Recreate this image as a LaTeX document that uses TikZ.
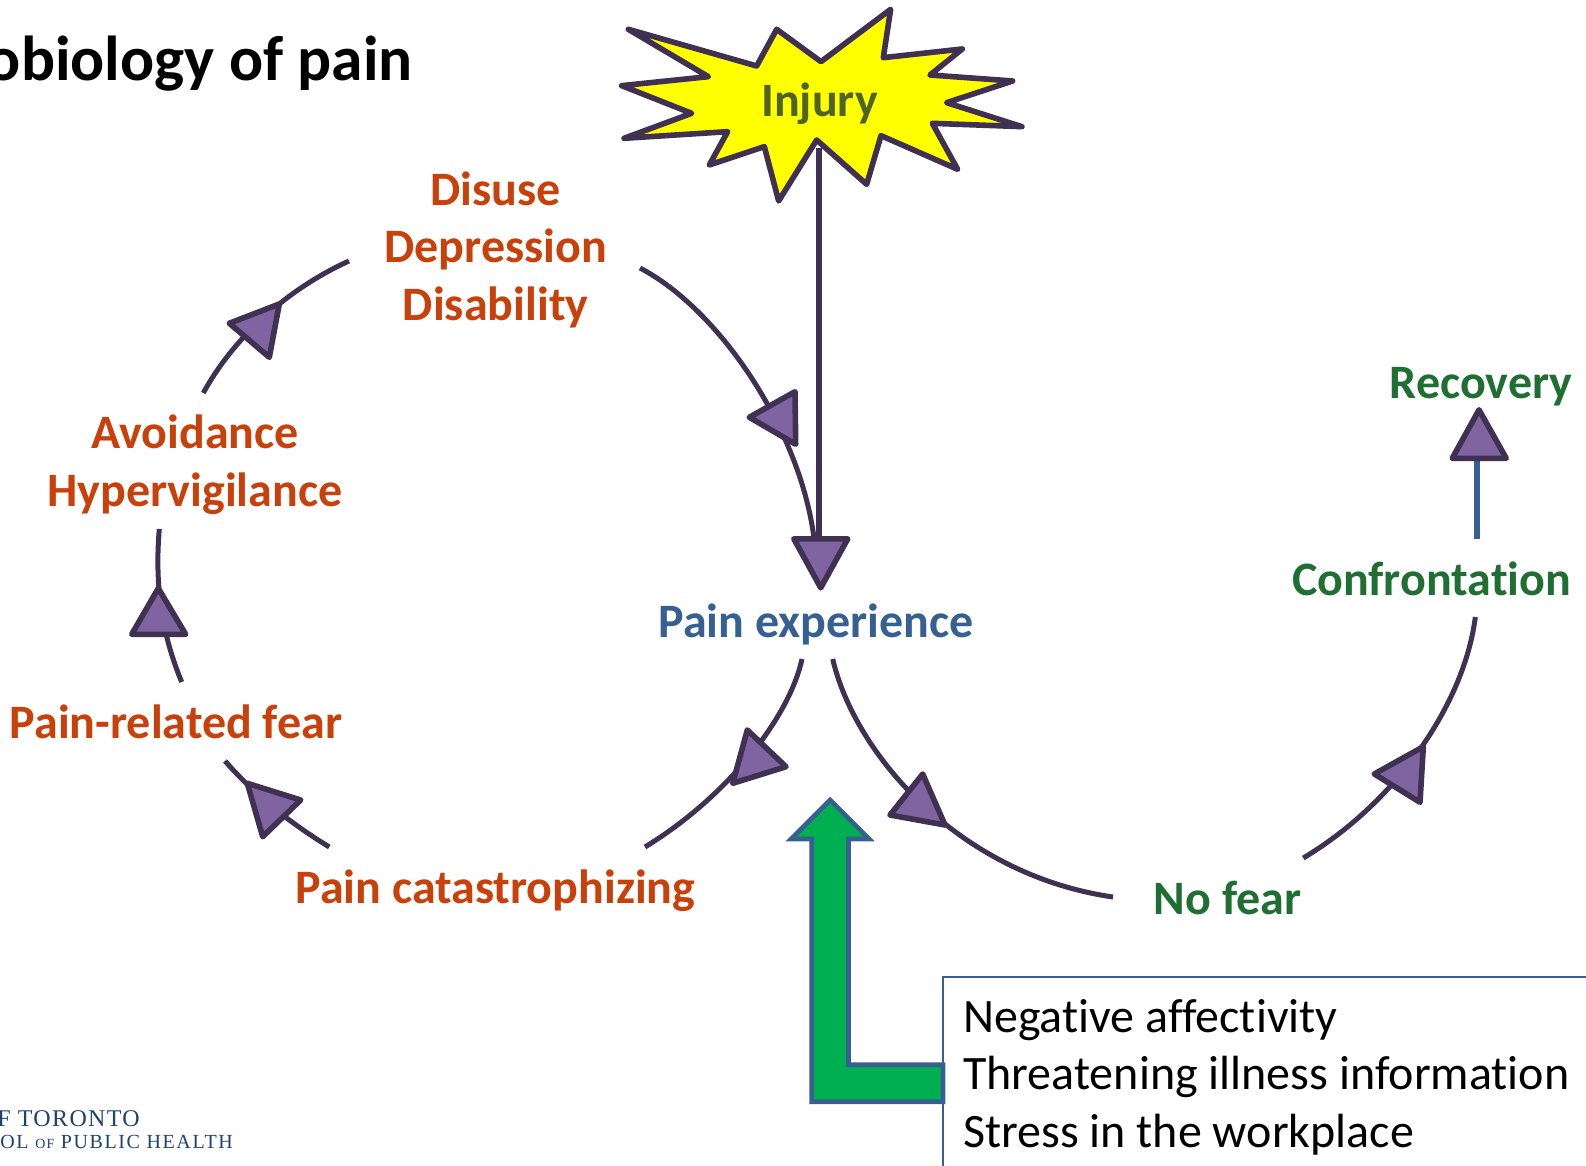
\documentclass[tikz,border=0pt]{standalone}
\usepackage{fontspec}
\setmainfont[Ligatures=NoCommon]{Carlito}
\newfontfamily\logofonta[LetterSpace=5.6]{Liberation Serif}
\newfontfamily\logofontb[LetterSpace=8]{Liberation Serif}
\definecolor{orangetxt}{HTML}{C9400A}
\definecolor{greentxt}{HTML}{1F6F33}
\definecolor{bluetxt}{HTML}{376092}
\definecolor{injurytxt}{HTML}{4F6228}
\definecolor{purplefill}{HTML}{8064A2}
\definecolor{purpleline}{HTML}{403152}
\definecolor{arrowgreen}{HTML}{00B050}
\definecolor{logoblue}{HTML}{1F4272}
\definecolor{staryellow}{RGB}{255,255,0}
\tikzset{
  lab/.style={inner sep=0pt,outer sep=0pt,anchor=base,font=\fontsize{48}{57.5}\selectfont\bfseries,align=center},
  orangelab/.style={lab,text=orangetxt},
  greenlab/.style={lab,text=greentxt},
  bluelab/.style={lab,text=bluetxt},
  conn/.style={draw=purpleline,line width=5pt},
  tip/.style={draw=purpleline,fill=purplefill,line width=5.6pt,line join=round},
}
\begin{document}
\begin{tikzpicture}[x=1pt,y=-1pt]
\useasboundingbox (0,0) rectangle (1586,1166);
\clip (0,0) rectangle (1586,1166);
\fill[white] (0,0) rectangle (1586,1166);

% title and logo
\node[inner sep=0pt,anchor=base east,font=\fontsize{63.5}{70}\selectfont\bfseries] (title) at (413,81) {obiology of pain};
\node[inner sep=0pt,anchor=base east,text=logoblue,font=\logofonta\fontsize{24}{26}\selectfont] (logoa) at (140,1126.5) {F TORONTO};
\node[inner sep=0pt,anchor=base east,text=logoblue,font=\logofontb\fontsize{20}{22}\selectfont] (logob) at (233,1148) {OL {\fontsize{14}{16}\selectfont OF} PUBLIC HEALTH};

% labels
\node[orangelab] (disuse) at (495.6,320) {Disuse\\Depression\\Disability};
\node[orangelab] (avoid) at (195,506) {Avoidance\\Hypervigilance};
\node[orangelab] (fear) at (176,738) {Pain-related fear};
\node[orangelab] (catas) at (495.4,903) {Pain catastrophizing};
\node[bluelab] (pain) at (816,637) {Pain experience};
\node[greenlab] (nofear) at (1227.5,914) {No fear};
\node[greenlab] (confront) at (1431.5,595) {Confrontation};
\node[greenlab] (recov) at (1481,398.5) {Recovery};

% connector ends
\coordinate (a1) at (203.3,393);
\coordinate (a2) at (349,261);
\coordinate (b1) at (640,268);
\coordinate (b2) at (814,538);
\coordinate (d1) at (181.7,682);
\coordinate (d2) at (159.3,529);
\coordinate (e1) at (329.3,847);
\coordinate (e2) at (225,761);
\coordinate (f1) at (802,659);
\coordinate (f2) at (645,847);
\coordinate (g1) at (832.7,659);
\coordinate (g2) at (1113,897);
\coordinate (i1) at (1475.3,617);
\coordinate (i2) at (1303.3,858);
\coordinate (h1) at (1477,539);
\coordinate (h2) at (1477,456);
\coordinate (s1) at (818.6,148);
\coordinate (s2) at (818.6,540);

% connectors
\draw[conn] (a1) .. controls (232,340) and (285,290) .. (a2);
\draw[conn] (b1) .. controls (720,310) and (800,430) .. (b2);
\draw[conn] (d1) .. controls (160,630) and (155,580) .. (d2);
\draw[conn] (e1) .. controls (290,823) and (255,795) .. (e2);
\draw[conn] (f1) .. controls (790,715) and (730,795) .. (f2);
\draw[conn] (g1) .. controls (855,755) and (960,875) .. (g2);
\draw[conn] (i1) .. controls (1465,700) and (1400,800) .. (i2);
\draw[draw=bluetxt,line width=6pt] (h1) -- (h2);
\draw[draw=purpleline,line width=6pt] (s1) -- (s2);

% arrowheads
\draw[tip] (229.3,323.3) -- (279.3,304) -- (269.3,357.3) -- cycle;
\draw[tip] (749.3,417.3) -- (795,391.7) -- (795.7,444.3) -- cycle;
\draw[tip] (793.8,538.8) -- (847.8,538.8) -- (820.7,587.8) -- cycle;
\draw[tip] (158.3,588.3) -- (131.7,634.3) -- (185.7,634.3) -- cycle;
\draw[tip] (247.3,783.3) -- (300.7,800) -- (262.7,836.7) -- cycle;
\draw[tip] (747.3,730) -- (786,766.7) -- (732.7,783.3) -- cycle;
\draw[tip] (922.7,774) -- (945,825) -- (890,815) -- cycle;
\draw[tip] (1479,409.8) -- (1452.2,458.3) -- (1506.2,458.3) -- cycle;
\draw[tip] (1423.3,746.7) -- (1374.3,774) -- (1420,802.3) -- cycle;

% injury star
\begin{scope}[shift={(600,0)},x=0.3333pt,y=-0.3333pt]
\draw[draw=purpleline,fill=staryellow,line width=5.6pt,line join=round]
 (85,88)--(470,198)--(530,88)--(663,185)--(872,28)--(850,173)--(1087,147)--(990,225)--(1238,243)--(1040,308)--(1266,380)--(997,370)--(1073,508)--(843,407)--(800,553)--(650,420)--(536,603)--(493,440)--(328,495)--(383,395)--(72,415)--(275,340)--(65,257)--(325,230)--cycle;
\end{scope}
\node[lab,text=injurytxt] (injury) at (819.5,117) {Injury};

% box
\draw[draw=bluetxt,line width=1.6pt,fill=white] (943,977) -- (1600,977) -- (1600,1180) -- (943,1180) -- cycle;
\node[inner sep=0pt,anchor=base west,align=left,font=\fontsize{48}{57.5}\selectfont] (boxtext) at (963,1147) {Negative affectivity\\Threatening illness information\\Stress in the workplace};

% green arrow
\draw[draw=bluetxt,fill=arrowgreen,line width=4.6pt,miter limit=10]
 (830,800) -- (869,839) -- (848.5,839) -- (848.5,1064.7) -- (943,1064.7) -- (943,1101.7) -- (811.7,1101.7) -- (811.7,839) -- (791,839) -- cycle;
\end{tikzpicture}
\end{document}
